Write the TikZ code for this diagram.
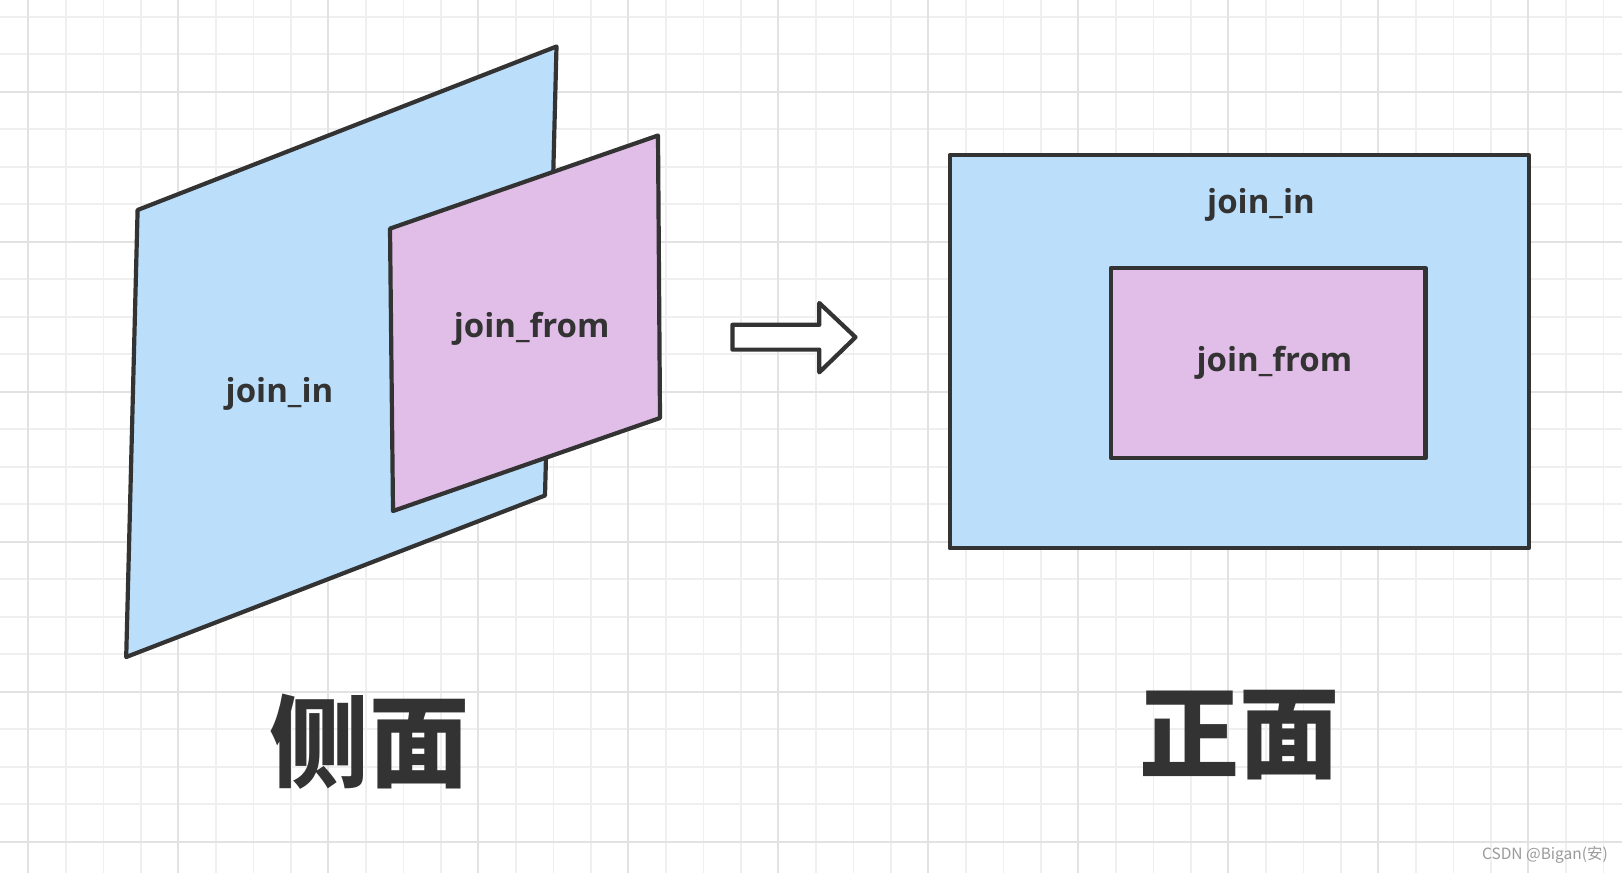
\documentclass[tikz,border=0pt]{standalone}
\usepackage{fontspec}
\setmainfont{Open Sans}
\newfontfamily\cjk{Noto Sans CJK SC}
\definecolor{ink}{HTML}{333333}
\definecolor{paneblue}{HTML}{BBDEFB}
\definecolor{panepink}{HTML}{E1BEE7}
\definecolor{gridminor}{HTML}{EFEFEF}
\definecolor{gridmajor}{HTML}{E2E2E2}
\definecolor{mark}{HTML}{9A9A9A}
\tikzset{
  pane/.style={draw=ink, line width=4.2pt, line join=round},
  bluepane/.style={pane, fill=paneblue},
  pinkpane/.style={pane, fill=panepink},
  lbl/.style={text=ink, font=\bfseries\fontsize{33}{36}\selectfont, inner sep=0pt},
  bigtitle/.style={text=ink, font=\cjk\bfseries\fontsize{100}{110}\selectfont, inner sep=0pt},
  minorline/.style={draw=gridminor, line width=1.6pt},
  majorline/.style={draw=gridmajor, line width=2pt},
  bigarrow/.style={draw=ink, fill=white, line width=4.2pt, line join=round}
}
\begin{document}
\begin{tikzpicture}[x=1pt,y=-1pt]
\useasboundingbox (0,0) rectangle (1622,873);
\fill[white] (0,0) rectangle (1622,873);
% grid
\foreach \k in {0,...,42} \draw[minorline] ({28.3+37.5*\k},0) -- ({28.3+37.5*\k},873);
\foreach \k in {0,...,22} \draw[minorline] (0,{16.7+37.5*\k}) -- (1622,{16.7+37.5*\k});
\foreach \k in {0,...,10} \draw[majorline] ({28.3+150*\k},0) -- ({28.3+150*\k},873);
\foreach \k in {0,...,5} \draw[majorline] (0,{91.7+150*\k}) -- (1622,{91.7+150*\k});

% side view
\draw[bluepane] (137.6,210) -- (556.5,46.5) -- (545,495.5) -- (126.2,657) -- cycle;
\draw[pinkpane] (390,228.6) -- (658,135.5) -- (660,418) -- (393,511) -- cycle;
\node[lbl] (sidein) at (279.5,394) {join\_in};
\node[lbl] (sidefrom) at (531.7,329) {join\_from};

% arrow
\draw[bigarrow] (732.4,324.8) -- (819.3,324.8) -- (819.3,303) -- (855.5,337.2)
  -- (819.3,372.4) -- (819.3,349.6) -- (732.4,349.6) -- cycle;

% front view
\draw[bluepane] (949.6,155.2) rectangle (1528.9,548.2);
\draw[pinkpane] (1111,268) rectangle (1425.4,458.2);
\node[lbl] (frontin) at (1261,204.5) {join\_in};
\node[lbl] (frontfrom) at (1274.4,363) {join\_from};

% titles
\node[bigtitle] (side) at (369,741.7) {侧面};
\node[bigtitle] (front) at (1239,735.5) {正面};

% watermark
\node[anchor=east, text=mark, font=\cjk\fontsize{15.5}{17}\selectfont, inner sep=0pt] (wm) at (1608,854.5) {CSDN @Bigan(安)};
\end{tikzpicture}
\end{document}
